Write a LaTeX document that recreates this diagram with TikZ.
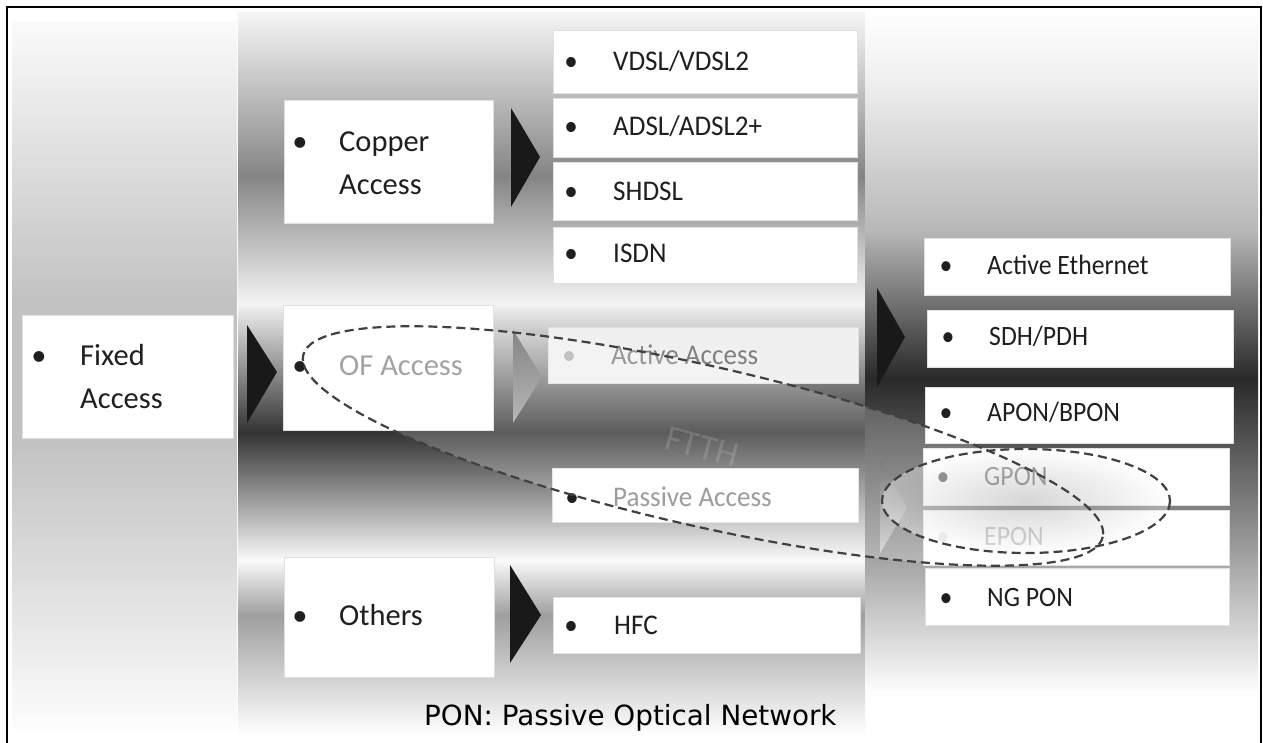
\documentclass[tikz,border=0pt]{standalone}
\usepackage{fontspec}
\newfontfamily\calfont{Carlito}
\newfontfamily\calmid[FakeStretch=0.95]{Carlito}
\newfontfamily\calsmall[FakeStretch=0.92]{Carlito}
\newfontfamily\dvfont{DejaVu Sans}
\begin{document}
\begin{tikzpicture}[x=1pt,y=-1pt,
  box/.style={rectangle, draw=black!12, line width=0.6pt, fill=white, inner sep=0pt},
  tri/.style={fill=black!90, draw=none},
  bigtxt/.style={font=\calfont\fontsize{30.5}{43}\selectfont, anchor=base west, inner sep=0pt, text=black!88},
  midtxt/.style={font=\calmid\fontsize{28.5}{32}\selectfont, anchor=base west, inner sep=0pt, text=black!88},
  smalltxt/.style={font=\calsmall\fontsize{28}{30}\selectfont, anchor=base west, inner sep=0pt, text=black!88},
  bul/.style={anchor=base},
  dashline/.style={draw=black!75, line width=2.2pt, dash pattern=on 9pt off 5pt},
]
\useasboundingbox (0,0) rectangle (1263,743);
\fill[white] (0,0) rectangle (1263,743);

% ---------- background columns ----------
% left column
\shade[top color=black!2, bottom color=black!24] (12,22) rectangle (237,300.5);
\fill[black!24] (12,300) rectangle (237,440.5);
\shade[top color=black!24, bottom color=black!1] (12,440) rectangle (237,728);
% middle column
\shade[top color=black!4, bottom color=black!48] (238,13) rectangle (865,176.5);
\shade[top color=black!48, bottom color=black!4] (238,176) rectangle (865,305.5);
\shade[top color=black!6, bottom color=black!80] (238,305) rectangle (865,432.5);
\shade[top color=black!80, bottom color=black!2] (238,432) rectangle (865,560.5);
\shade[top color=black!2, bottom color=black!38] (238,560) rectangle (865,615.5);
\shade[top color=black!38, bottom color=white] (238,615) rectangle (865,735);
% right column
\shade[top color=white, bottom color=black!6] (865,8) rectangle (1258,80.5);
\shade[top color=black!6, bottom color=black!28] (865,80) rectangle (1258,230.5);
\shade[top color=black!28, bottom color=black!84] (865,230) rectangle (1258,378.5);
\shade[top color=black!84, bottom color=black!1] (865,378) rectangle (1258,690);

% ---------- frame ----------
\draw[line width=2.5pt] (7,750) -- (7,7) -- (1261,7) -- (1261,750);

% ---------- boxes ----------
\node[box, minimum width=211, minimum height=123] (fixed)   at (127.5,376.5) {};
\node[box, minimum width=209, minimum height=123] (copper)  at (388.5,161.5) {};
\node[box, minimum width=210, minimum height=125] (ofacc)   at (388,367.5) {};
\node[box, minimum width=210, minimum height=120] (others)  at (389,617) {};
\node[box, minimum width=304, minimum height=63]  (vdsl)    at (705,61.5) {};
\node[box, minimum width=304, minimum height=59]  (adsl)    at (705,127.5) {};
\node[box, minimum width=304, minimum height=58]  (shdsl)   at (705,191) {};
\node[box, minimum width=304, minimum height=56]  (isdn)    at (705,255) {};
\node[box, minimum width=310, minimum height=56, fill=black!6]  (active)  at (703,355) {};
\node[box, minimum width=306, minimum height=54]  (passive) at (705,495) {};
\node[box, minimum width=307, minimum height=56]  (hfc)     at (706.5,625) {};
\node[box, minimum width=306, minimum height=57]  (aeth)    at (1077,266.5) {};
\node[box, minimum width=306, minimum height=57]  (sdh)     at (1080,338.5) {};
\node[box, minimum width=308, minimum height=56]  (apon)    at (1079,415) {};
\node[box, minimum width=306, minimum height=57]  (gpon)    at (1076,476.5) {};
\node[box, minimum width=306, minimum height=55]  (epon)    at (1076,537.5) {};
\node[box, minimum width=304, minimum height=57]  (ngpon)   at (1077,596.5) {};

% ---------- chevrons ----------
\fill[tri] (247,325) -- (247,423) -- (277,372) -- cycle;
\fill[tri] (511,108) -- (511,207) -- (540,157) -- cycle;
\fill[tri] (510,565) -- (510,663) -- (541,615) -- cycle;
\fill[tri] (877,288) -- (877,387) -- (905,337) -- cycle;
\shade[top color=black!60, bottom color=black!35] (513,330) -- (513,423) -- (542,377) -- cycle;
\shade[top color=black!65, bottom color=black!18] (880,460) -- (880,553) -- (907,508) -- cycle;

% ---------- texts ----------
\node[bigtxt, bul] (fixedB) at (39,365) {•};
\node[bigtxt] (fixedT) at (80,365) {\begin{tabular}[t]{@{}l@{}}Fixed\\Access\end{tabular}};
\node[bigtxt, bul] (copperB) at (300,152) {•};
\node[bigtxt] (copperT) at (339,152) {\begin{tabular}[t]{@{}l@{}}Copper\\Access\end{tabular}};
\node[bigtxt, bul] (ofB) at (300,375) {•};
\node[bigtxt, text=black!45] (ofT) at (339,375) {OF Access};
\node[bigtxt, bul] (othersB) at (300,625) {•};
\node[bigtxt] (othersT) at (339,625) {Others};

\node[midtxt, bul] (vdslB) at (571,71) {•};
\node[midtxt] (vdslT) at (613,71) {VDSL/VDSL2};
\node[midtxt, bul] (adslB) at (571,136) {•};
\node[midtxt] (adslT) at (613,136) {ADSL/ADSL2+};
\node[midtxt, bul] (shdslB) at (571,201) {•};
\node[midtxt] (shdslT) at (613,201) {SHDSL};
\node[midtxt, bul] (isdnB) at (571,262) {•};
\node[midtxt] (isdnT) at (613,262) {ISDN};
\node[midtxt, bul, text=black!30] (activeB) at (569,364) {•};
\node[midtxt, text=black!50] (activeT) at (611,364) {Active Access};
\node[midtxt, bul] (passiveB) at (572,506) {•};
\node[midtxt, text=black!48] (passiveT) at (613,506) {Passive Access};
\node[midtxt, bul] (hfcB) at (571,634) {•};
\node[midtxt] (hfcT) at (614,634) {HFC};

\node[smalltxt, bul] (aethB) at (946,275) {•};
\node[smalltxt] (aethT) at (987,275) {Active Ethernet};
\node[smalltxt, bul] (sdhB) at (948,345) {•};
\node[smalltxt] (sdhT) at (989,345) {SDH/PDH};
\node[smalltxt, bul] (aponB) at (946,421) {•};
\node[smalltxt] (aponT) at (987,421) {APON/BPON};
\node[smalltxt, bul, text=black!75] (gponB) at (943,485) {•};
\node[smalltxt, text=black!58] (gponT) at (984,485) {GPON};
\node[smalltxt, bul, text=black!12] (eponB) at (943,545) {•};
\node[smalltxt, text=black!30] (eponT) at (984,545) {EPON};
\node[smalltxt, bul] (ngponB) at (946,606) {•};
\node[smalltxt] (ngponT) at (987,606) {NG PON};

% ---------- FTTH ellipses ----------
\fill[white, fill opacity=0.2, rotate around={-12.8:(703,446)}] (703,446) ellipse [x radius=410, y radius=80];
\shade[inner color=black!45, outer color=white, fill opacity=0.35] (1026,501) ellipse [x radius=144, y radius=52];
\draw[dashline, rotate around={-12.8:(703,446)}] (703,446) ellipse [x radius=410, y radius=80];
\draw[dashline] (1026,501) ellipse [x radius=144, y radius=52];
\node[font=\calfont\fontsize{36}{36}\selectfont, text=white, text opacity=0.15, rotate=-15] (ftth) at (702,447) {FTTH};

% ---------- caption ----------
\node[font=\dvfont\fontsize{27.8}{30}\selectfont, anchor=base west, inner sep=0pt] (pon) at (424,725) {PON: Passive Optical Network};
\end{tikzpicture}
\end{document}
